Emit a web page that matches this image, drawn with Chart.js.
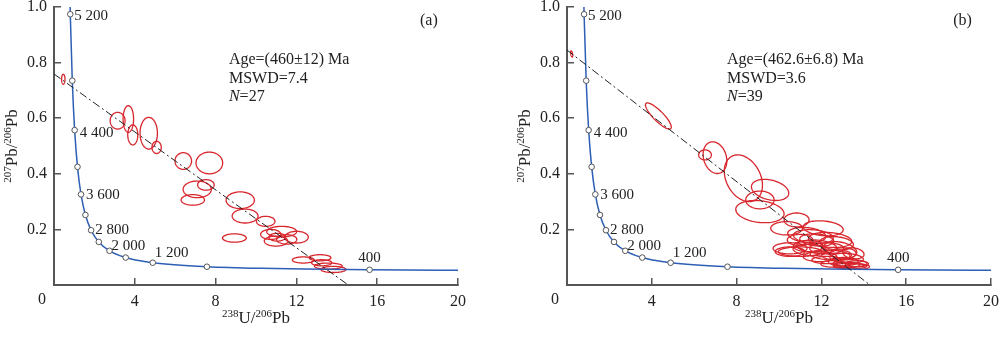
<!DOCTYPE html>
<html><head><meta charset="utf-8">
<script src="https://cdn.jsdelivr.net/npm/chart.js@4.4.1/dist/chart.umd.min.js"></script>
<style>
html,body{margin:0;padding:0;background:#fff;overflow:hidden;width:1000px;height:348px;position:relative;}
#ca{position:absolute;left:0;top:0;}
#cb{position:absolute;left:500px;top:0;}
</style></head><body>
<canvas id="ca" width="500" height="348"></canvas>
<canvas id="cb" width="520" height="348"></canvas>
<script>
// ---------- data ----------
const xTicks = [0, 4, 8, 12, 16, 20];
const yTicks = [0, 0.2, 0.4, 0.6, 0.8, 1.0];

// concordia (Tera-Wasserburg) points, age in Ma
const concordiaAge = [5300, 5200, 4800, 4400, 4000, 3600, 3200, 2800, 2400, 2000, 1600, 1400, 1200, 1000, 800, 600, 500, 400, 300];
const concordiaX = [0.784, 0.806, 0.905, 1.022, 1.163, 1.337, 1.556, 1.838, 2.217, 2.749, 3.550, 4.123, 4.888, 5.959, 7.570, 10.252, 12.399, 15.62, 20.99];
const concordiaY = [1.046, 0.974, 0.735, 0.557, 0.425, 0.326, 0.252, 0.197, 0.155, 0.123, 0.0987, 0.0888, 0.0801, 0.0725, 0.0658, 0.0599, 0.0572, 0.0547, 0.0523];
const markerAges = [5200, 4800, 4400, 4000, 3600, 3200, 2800, 2400, 2000, 1600, 1200, 800, 400];
const labelAges = [5200, 4400, 3600, 2800, 2000, 1200, 400];
const labelTexts = ['5 200', '4 400', '3 600', '2 800', '2 000', '1 200', '400'];

// panel (a) discordia and ellipses
const aDiscordiaX = [0, 14.57];
const aDiscordiaY = [0.759, 0];
const aEllX = [0.46, 3.15, 3.68, 3.90, 4.69, 5.08, 6.40, 7.69, 7.09, 7.52, 6.87, 9.22, 9.46, 10.48, 8.93, 11.27, 10.73, 12.01, 10.99, 11.52, 11.05, 12.34, 13.17, 13.25, 13.58, 13.83];
const aEllY = [0.740, 0.591, 0.597, 0.540, 0.546, 0.495, 0.446, 0.439, 0.344, 0.360, 0.306, 0.305, 0.248, 0.229, 0.169, 0.192, 0.182, 0.172, 0.158, 0.164, 0.172, 0.090, 0.098, 0.080, 0.068, 0.056];
const aEllSx = [0.084, 0.37, 0.26, 0.25, 0.43, 0.23, 0.41, 0.66, 0.70, 0.41, 0.58, 0.70, 0.64, 0.46, 0.59, 0.74, 0.50, 0.58, 0.58, 0.50, 0.41, 0.54, 0.54, 0.50, 0.69, 0.62];
const aEllSy = [0.018, 0.030, 0.048, 0.036, 0.057, 0.022, 0.030, 0.039, 0.030, 0.019, 0.019, 0.030, 0.025, 0.018, 0.015, 0.019, 0.018, 0.021, 0.018, 0.017, 0.014, 0.011, 0.011, 0.011, 0.011, 0.011];
const aEllRho = aEllX.map(() => 0);
const aAnnotation = ['Age=(460\u00b112) Ma', 'MSWD=7.4', 'N=27'];

// panel (b) discordia and ellipses
const bDiscordiaX = [0, 14.29];
const bDiscordiaY = [0.845, 0];
const bEllX = [0.22, 4.31, 6.51, 6.98, 8.32, 9.58, 9.10, 9.10, 10.83, 10.36, 12.09, 11.31, 12.41, 10.99, 11.78, 12.88, 12.41, 13.19, 13.35, 13.35, 11.93, 11.38, 12.72, 11.62, 13.03, 12.57, 13.67, 10.52, 12.25, 13.03, 10.52, 11.46, 12.72, 13.51, 13.19, 13.67, 12.25, 11.78, 10.99];
const bEllY = [0.831, 0.608, 0.468, 0.458, 0.384, 0.342, 0.306, 0.264, 0.234, 0.204, 0.204, 0.180, 0.162, 0.120, 0.138, 0.126, 0.108, 0.096, 0.078, 0.068, 0.102, 0.140, 0.150, 0.174, 0.084, 0.076, 0.066, 0.132, 0.132, 0.114, 0.120, 0.126, 0.108, 0.114, 0.072, 0.076, 0.090, 0.162, 0.162];
const bEllSx = [0.05, 0.61, 0.30, 0.56, 0.90, 0.88, 0.67, 1.14, 0.59, 0.75, 0.94, 0.90, 1.02, 1.02, 0.94, 0.79, 0.94, 0.79, 0.79, 0.79, 0.79, 0.70, 0.79, 0.94, 0.70, 0.60, 0.60, 0.80, 0.80, 0.60, 0.70, 0.80, 0.70, 0.50, 0.60, 0.55, 0.70, 0.80, 0.60];
const bEllSy = [0.011, 0.047, 0.018, 0.057, 0.084, 0.038, 0.032, 0.040, 0.025, 0.024, 0.027, 0.027, 0.027, 0.017, 0.024, 0.030, 0.018, 0.018, 0.013, 0.010, 0.018, 0.020, 0.024, 0.025, 0.015, 0.012, 0.010, 0.020, 0.020, 0.020, 0.017, 0.020, 0.018, 0.020, 0.010, 0.011, 0.013, 0.022, 0.020];
const bEllRho = [-0.5, -0.85, 0, -0.2, -0.3, -0.3, 0, -0.2, 0, 0, -0.2, -0.2, -0.2, 0, -0.2, -0.3, -0.2, -0.2, 0, 0, 0, 0, -0.2, -0.2, 0, 0, 0, 0, 0, 0, 0, -0.2, 0, -0.2, 0, 0, 0, -0.2, 0];
const bAnnotation = ['Age=(462.6\u00b16.8) Ma', 'MSWD=3.6', 'N=39'];

const panelLabels = ['(a)', '(b)'];

// ---------- styles ----------
const F = '"Liberation Serif", "Times New Roman", serif';
const RED = '#d8262d';
const BLUE = '#2d5fb4';
const AXIS = '#555';
const TXT = '#222';
const labelOffsets = [[4, 1.5, 'left'], [5, 3, 'left'], [5, 1, 'left'], [4, 0, 'left'], [2, -5, 'left'], [2, -10, 'left'], [0, -12, 'center']];

function pts(xs, ys) { return xs.map((x, i) => ({ x: x, y: ys[i] })); }

function drawRich(ctx, parts, x, y, size, supSize) {
  let total = 0;
  const ws = parts.map(p => {
    ctx.font = (p[1] ? supSize : size) + 'px ' + F;
    const w = ctx.measureText(p[0]).width; total += w; return w;
  });
  let cx = x - total / 2;
  parts.forEach((p, i) => {
    ctx.font = (p[1] ? supSize : size) + 'px ' + F;
    ctx.fillText(p[0], cx, p[1] ? y - 5 : y);
    cx += ws[i];
  });
}

function makeChart(id, cfg) {
  const markerData = markerAges.map(a => { const i = concordiaAge.indexOf(a); return { x: concordiaX[i], y: concordiaY[i] }; });
  const overlay = {
    id: 'overlay',
    beforeDatasetsDraw(chart) {
      const { ctx, chartArea: ca, scales: { x, y } } = chart;
      ctx.save();
      ctx.beginPath(); ctx.rect(ca.left, ca.top, ca.width, ca.height); ctx.clip();
      ctx.strokeStyle = RED; ctx.lineWidth = 1.3;
      for (let i = 0; i < cfg.ex.length; i++) {
        const r = cfg.er[i], q = Math.sqrt(1 - r * r);
        ctx.beginPath();
        for (let k = 0; k <= 80; k++) {
          const t = k / 80 * 2 * Math.PI;
          const px = x.getPixelForValue(cfg.ex[i] + cfg.esx[i] * Math.cos(t));
          const py = y.getPixelForValue(cfg.ey[i] + cfg.esy[i] * (r * Math.cos(t) + q * Math.sin(t)));
          if (k === 0) ctx.moveTo(px, py); else ctx.lineTo(px, py);
        }
        ctx.closePath(); ctx.stroke();
      }
      ctx.restore();
    },
    afterDraw(chart) {
      const { ctx, chartArea: ca, scales: { x, y } } = chart;
      ctx.save();
      ctx.fillStyle = TXT;
      ctx.textBaseline = 'middle';
      // concordia age labels
      ctx.font = '15px ' + F;
      labelAges.forEach((a, j) => {
        const i = concordiaAge.indexOf(a);
        const o = labelOffsets[j];
        ctx.textAlign = o[2];
        ctx.fillText(labelTexts[j], x.getPixelForValue(concordiaX[i]) + o[0], y.getPixelForValue(concordiaY[i]) + o[1]);
      });
      // annotation
      ctx.textAlign = 'left';
      const ax = x.getPixelForValue(cfg.annX), ay = y.getPixelForValue(cfg.annY);
      cfg.ann.forEach((line, i) => {
        const yy = ay + i * 18.5;
        if (line.startsWith('N=')) {
          ctx.font = 'italic 16px ' + F; ctx.fillText('N', ax, yy);
          const w = ctx.measureText('N').width;
          ctx.font = '16px ' + F; ctx.fillText(line.slice(1), ax + w, yy);
        } else { ctx.font = '16px ' + F; ctx.fillText(line, ax, yy); }
      });
      // panel label
      ctx.textAlign = 'center'; ctx.font = '16px ' + F;
      ctx.fillText(cfg.panel, x.getPixelForValue(cfg.panelX), y.getPixelForValue(0.95));
      // origin "0"
      ctx.fillText('0', ca.left - 12, ca.bottom + 15);
      // axis titles
      ctx.textAlign = 'left';
      drawRich(ctx, [['238', 1], ['U/', 0], ['206', 1], ['Pb', 0]], (ca.left + ca.right) / 2, ca.bottom + 34, 17, 11);
      ctx.save();
      ctx.translate(ca.left - 41, (ca.top + ca.bottom) / 2);
      ctx.rotate(-Math.PI / 2);
      drawRich(ctx, [['207', 1], ['Pb/', 0], ['206', 1], ['Pb', 0]], 0, 0, 17, 11);
      ctx.restore();
      ctx.restore();
    }
  };
  return new Chart(document.getElementById(id), {
    type: 'scatter',
    data: {
      datasets: [
        { data: pts(concordiaX, concordiaY), showLine: true, borderColor: BLUE, borderWidth: 1.5, pointRadius: 0, cubicInterpolationMode: 'monotone', fill: false, order: 3 },
        { data: pts(cfg.dx, cfg.dy), showLine: true, borderColor: '#222', borderWidth: 1, borderDash: [8, 3, 2, 3], pointRadius: 0, fill: false, order: 2 },
        { data: markerData, showLine: false, pointRadius: 2.8, pointBackgroundColor: '#fff', pointBorderColor: AXIS, pointBorderWidth: 1, order: 1 }
      ]
    },
    options: {
      responsive: false, animation: false, events: [],
      layout: { padding: { left: 0, top: 7, right: cfg.padRight, bottom: 0 } },
      plugins: { legend: { display: false }, tooltip: { enabled: false } },
      scales: {
        x: {
          type: 'linear', min: 0, max: 20,
          afterBuildTicks: s => { s.ticks = xTicks.map(v => ({ value: v })); },
          ticks: { callback: v => v === 0 ? '' : String(v), font: { family: F, size: 16 }, color: TXT, padding: 14, maxRotation: 0, autoSkip: false },
          grid: { drawOnChartArea: false, drawTicks: true, tickLength: -7, color: AXIS, lineWidth: 1.5 },
          border: { display: true, color: AXIS, width: 2 },
          afterFit: s => { s.height = 63; s.paddingLeft = 0; s.paddingRight = 0; s.paddingTop = 0; s.paddingBottom = 0; }
        },
        y: {
          type: 'linear', min: 0, max: 1.0,
          afterBuildTicks: s => { s.ticks = yTicks.map(v => ({ value: v })); },
          ticks: { callback: v => v === 0 ? '' : v.toFixed(1), font: { family: F, size: 16 }, color: TXT, padding: 14, autoSkip: false },
          grid: { drawOnChartArea: false, drawTicks: true, tickLength: -7, color: AXIS, lineWidth: 1.5 },
          border: { display: true, color: AXIS, width: 2 },
          afterFit: s => { s.width = cfg.yWidth; s.paddingLeft = 0; s.paddingRight = 0; s.paddingTop = 0; s.paddingBottom = 0; }
        }
      }
    },
    plugins: [overlay]
  });
}

makeChart('ca', { ex: aEllX, ey: aEllY, esx: aEllSx, esy: aEllSy, er: aEllRho, dx: aDiscordiaX, dy: aDiscordiaY, ann: aAnnotation, annX: 8.66, annY: 0.809, panel: panelLabels[0], panelX: 18.56, yWidth: 54, padRight: 42 });
makeChart('cb', { ex: bEllX, ey: bEllY, esx: bEllSx, esy: bEllSy, er: bEllRho, dx: bDiscordiaX, dy: bDiscordiaY, ann: bAnnotation, annX: 7.55, annY: 0.809, panel: panelLabels[1], panelX: 18.66, yWidth: 67, padRight: 29 });
</script>
</body></html>
